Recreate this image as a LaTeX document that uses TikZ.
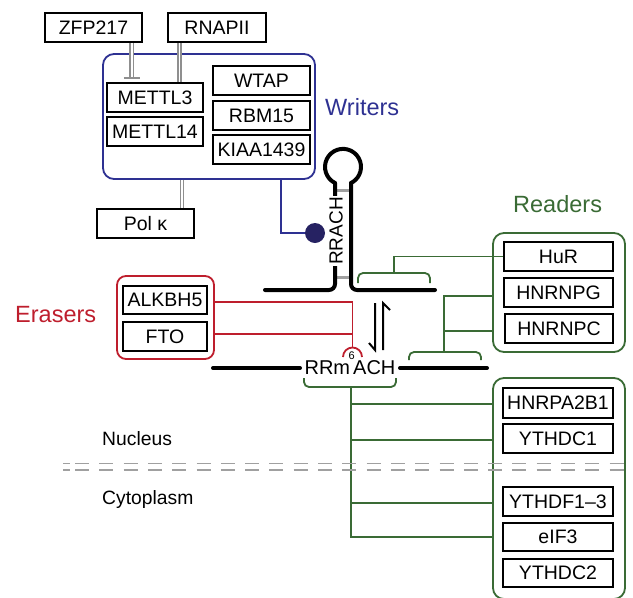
\documentclass[tikz,border=0pt]{standalone}
\usepackage{fontspec}
\setmainfont{Liberation Sans}
\usetikzlibrary{calc}
\definecolor{wblue}{HTML}{2E3192}
\definecolor{wdot}{HTML}{262262}
\definecolor{ered}{HTML}{BE1E2D}
\definecolor{rgreen}{HTML}{3A6B35}
\definecolor{lgray}{HTML}{8F8F8F}
\definecolor{dgray}{HTML}{A0A0A0}
\tikzset{
 pbox/.style={draw=black, line width=1.8pt, inner sep=0pt, minimum height=29pt, font=\fontsize{19.5}{22}\selectfont},
 frame/.style={line width=1.8pt, rounded corners=11pt, inner sep=0pt},
 rna/.style={line width=4pt, line cap=round},
 dbl/.style={draw=lgray, double=white, double distance=1.6pt, line width=1.6pt},
 gline/.style={draw=rgreen, line width=1.8pt},
 rline/.style={draw=ered, line width=1.8pt},
 lbl/.style={font=\fontsize{23.5}{26}\selectfont, inner sep=0pt, anchor=base west},
 sublbl/.style={font=\fontsize{19.3}{22}\selectfont, inner sep=0pt, anchor=base west},
}
\begin{document}
\begin{tikzpicture}[x=1pt,y=1pt]
\useasboundingbox (0,0) rectangle (633,-598);
% frames
\node[frame, draw=wblue, minimum width=212pt, minimum height=125pt] (wr) at (209,-116.5) {};
\node[frame, draw=ered, rounded corners=9pt, minimum width=97pt, minimum height=83pt] (er) at (165.5,-317.5) {};
\node[frame, draw=rgreen, minimum width=132pt, minimum height=119pt] (rt) at (559,-292.5) {};
\node[frame, draw=rgreen, minimum width=132pt, minimum height=221pt] (rb) at (559,-488.5) {};
% boxes
\node[pbox, minimum width=97pt] (zfp) at (93.5,-27.5) {ZFP217};
\node[pbox, minimum width=98pt] (rnap) at (217,-27.5) {RNAPII};
\node[pbox, minimum width=96pt] (m3) at (155,-97.5) {METTL3};
\node[pbox, minimum width=96pt] (m14) at (155,-131.5) {METTL14};
\node[pbox, minimum width=97pt] (wtap) at (261.5,-80.5) {WTAP};
\node[pbox, minimum width=97pt] (rbm) at (261.5,-115.5) {RBM15};
\node[pbox, minimum width=97pt] (kiaa) at (261.5,-149.5) {KIAA1439};
\node[pbox, minimum width=97pt] (pol) at (145.5,-223.5) {Pol κ};
\node[pbox, minimum width=84pt, minimum height=28pt] (alk) at (165,-300) {ALKBH5};
\node[pbox, minimum width=84pt] (fto) at (165,-336.5) {FTO};
\node[pbox, minimum width=109pt] (hur) at (558.5,-256.5) {HuR};
\node[pbox, minimum width=109pt] (hng) at (558.5,-292.5) {HNRNPG};
\node[pbox, minimum width=108pt] (hnc) at (559,-328.5) {HNRNPC};
\node[pbox, minimum width=110pt, minimum height=30pt] (ha2) at (558,-403) {HNRPA2B1};
\node[pbox, minimum width=110pt] (ydc1) at (558,-438.5) {YTHDC1};
\node[pbox, minimum width=110pt] (ydf) at (558,-501.5) {YTHDF1–3};
\node[pbox, minimum width=110pt, minimum height=28pt] (eif) at (558,-537) {eIF3};
\node[pbox, minimum width=110pt, minimum height=28pt] (ydc2) at (558,-573) {YTHDC2};
% labels
\node[lbl, text=wblue] (lw) at (325,-115) {Writers};
\node[lbl, text=ered] (le) at (15,-322) {Erasers};
\node[lbl, text=rgreen] (lr) at (513,-212) {Readers};
\node[sublbl] (nuc) at (102,-445) {Nucleus};
\node[sublbl] (cyt) at (102,-504) {Cytoplasm};
% gray double connectors
\coordinate (zfpT) at (131.8,-78);
\draw[dbl] (zfp.south -| zfpT) -- (zfpT);
\draw[lgray, line width=2pt] ($(zfpT)+(-8,0)$) -- ($(zfpT)+(8,0)$);
\draw[dbl] (rnap.south -| 179.5,0) -- (m3.north -| 179.5,0);
\draw[dbl] (wr.south -| 182,0) -- (pol.north -| 182,0);
% blue connector
\node[circle, fill=wdot, minimum size=20pt, inner sep=0pt] (dot) at (315,-233) {};
\draw[wblue, line width=1.8pt] (wr.south -| 281,0) |- (dot.west);
% RNA stem-loop
\draw[dgray, line width=3pt] (336,-190) -- (350,-190);
\draw[dgray, line width=3pt] (336,-277) -- (350,-277);
\draw[rna, rounded corners=6pt] (265,-290) -- (335,-290) -- (335,-183);
\draw[rna] (335,-183) arc[start angle=243.6, end angle=-63.6, radius=18];
\draw[rna, rounded corners=6pt] (351,-183) -- (351,-290) -- (435,-290);
\node[fill=white, inner sep=1pt, rotate=90, font=\fontsize{19}{22}\selectfont] (rrach) at (336,-231) {RRACH};
% bottom strand
\node[inner sep=0pt, anchor=base, font=\fontsize{20}{22}\selectfont] (m6a) at (350,-374) {RRm\kern1.5pt\makebox[0pt]{\raisebox{15pt}{\fontsize{11}{11}\selectfont 6}}\kern1.5pt ACH};
\draw[rna] (213,-368) -- (300,-368);
\draw[rna] (400,-368) -- (487,-368);
% equilibrium harpoons
\draw[line width=2pt] (375,-303) -- (375,-350) -- (369,-343);
\draw[line width=2pt] (383,-350) -- (383,-303) -- (390,-310);
% erasers connectors
\coordinate (rv) at (352.5,-347.5);
\draw[rline] (er.east |- 0,-302) -| (rv);
\draw[rline] (er.east |- 0,-334) -- (rv |- 0,-334);
\draw[rline] (343,-357) arc[start angle=180, end angle=0, radius=9.5];
% readers connectors
\draw[gline, rounded corners=5pt] (358,-283) -- (358,-273) -- (430,-273) -- (430,-283);
\draw[gline] (394,-273) |- (hur.west);
\draw[gline, rounded corners=5pt] (409,-360) -- (409,-352) -- (481,-352) -- (481,-360);
\draw[gline] (444,-352) |- (rt.west |- 0,-296);
\draw[gline] (444,-331) -- (rt.west |- 0,-331);
\draw[gline, rounded corners=5pt] (304,-378) -- (304,-387) -- (396,-387) -- (396,-378);
\draw[gline] (351,-387) |- (rb.west |- 0,-537);
\draw[gline] (351,-404) -- (rb.west |- 0,-404);
\draw[gline] (351,-440) -- (rb.west |- 0,-440);
\draw[gline] (351,-503) -- (rb.west |- 0,-503);
% nucleus / cytoplasm boundary
\draw[dgray, line width=1.8pt] (63,-463.5) -- (70,-463.5) (63,-470) -- (70,-470);
\draw[dgray, line width=1.8pt, dash pattern=on 14pt off 10.3pt] (75,-463.5) -- (633,-463.5);
\draw[dgray, line width=1.8pt, dash pattern=on 14pt off 10.3pt] (75,-470) -- (633,-470);
\end{tikzpicture}
\end{document}
